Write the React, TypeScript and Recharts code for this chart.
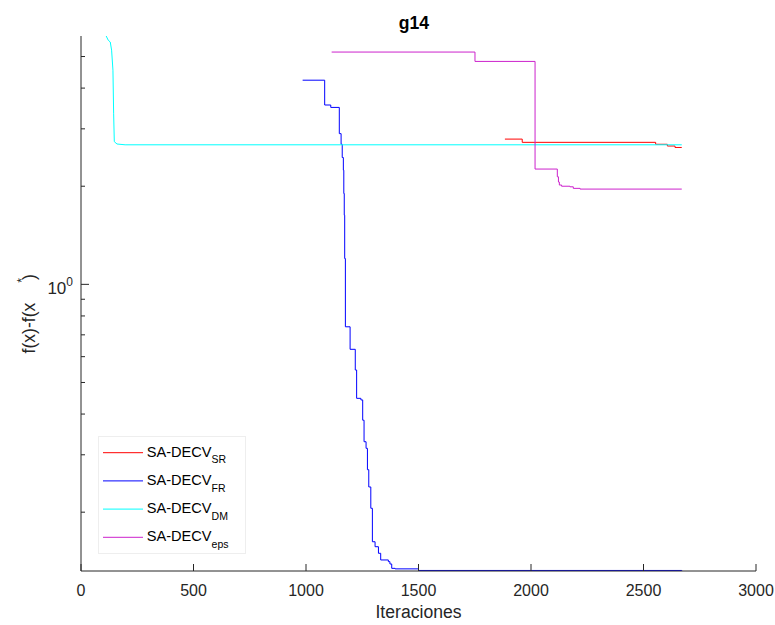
import { LineChart, Line, XAxis, YAxis, Legend } from "recharts";

// Convergence of f(x)-f(x*) for the four SA-DECV variants on g14
const srIter = [1884, 1961, 2554, 2606, 2640, 2670];
const srValue = [2.79, 2.727, 2.69, 2.657, 2.63, 2.63];

const frIter = [
  985, 1083, 1110, 1148, 1156, 1161, 1166, 1168, 1170, 1172, 1175, 1196, 1219,
  1225, 1244, 1252, 1258, 1267, 1273, 1279, 1288, 1295, 1307, 1322, 1332, 1366,
  1373, 1381, 1396, 1500, 2670,
];
const frValue = [
  4.23, 3.55, 3.49, 2.9, 2.69, 2.45, 2.24, 1.9, 1.63, 1.2, 0.741, 0.632, 0.546,
  0.447, 0.442, 0.383, 0.329, 0.314, 0.27, 0.239, 0.2056, 0.1623, 0.1567,
  0.1496, 0.1427, 0.141, 0.1387, 0.1345, 0.134, 0.1325, 0.132,
];

const dmIter = [112, 121, 130, 136, 142, 145, 148, 160, 196, 2670];
const dmValue = [5.78, 5.61, 5.54, 5.23, 4.54, 3.35, 2.74, 2.695, 2.68, 2.68];

const epsIter = [1114, 1751, 2018, 2117, 2122, 2126, 2136, 2173, 2188, 2218, 2670];
const epsValue = [5.16, 4.83, 2.258, 2.138, 2.06, 2.017, 2.0, 1.992, 1.97, 1.96, 1.96];

const xTicks = [0, 500, 1000, 1500, 2000, 2500, 3000];
const yTicks = [0.2, 0.3, 0.4, 0.5, 0.6, 0.7, 0.8, 0.9, 1, 2, 3, 4, 5];
const yDomain = [0.132, 5.78];

const subscripts = ["SR", "FR", "DM", "eps"];
const colors = ["#ff0000", "#0000ff", "#00ffff", "#cc22cc"];

const FONT = '"Liberation Sans", Arial, Helvetica, sans-serif';
const AXIS = "#262626";
const X_MARGIN = 25;
const Y_MARGIN = 8;

const toPoints = (xs: number[], ys: number[]) =>
  xs.map((x, i) => ({ x, y: ys[i] }));

const series = [
  { data: toPoints(srIter, srValue), type: "stepAfter" },
  { data: toPoints(frIter, frValue), type: "stepAfter" },
  { data: toPoints(dmIter, dmValue), type: "linear" },
  { data: toPoints(epsIter, epsValue), type: "stepAfter" },
];

function XTick(props: any) {
  const { x, y, payload } = props;
  const axisY = y - X_MARGIN;
  return (
    <g>
      <line x1={x} x2={x} y1={axisY} y2={axisY - 7} stroke={AXIS} />
      <text x={x} y={y} textAnchor="middle" fontSize={16} fill={AXIS} fontFamily={FONT}>
        {payload.value}
      </text>
    </g>
  );
}

function YTick(props: any) {
  const { x, y, payload } = props;
  const axisX = x + Y_MARGIN;
  const major = payload.value === 1;
  return (
    <g>
      <line x1={axisX} x2={axisX + (major ? 8 : 4)} y1={y} y2={y} stroke={AXIS} />
      {major && (
        <text x={x} y={y + 10} textAnchor="end" fontSize={17} fill={AXIS} fontFamily={FONT}>
          <tspan>10</tspan>
          <tspan dy={-8} fontSize={12}>0</tspan>
        </text>
      )}
    </g>
  );
}

function YLabel(props: any) {
  const { viewBox } = props;
  const cx = viewBox.x + 35;
  const cy = viewBox.y + viewBox.height / 2 + 50;
  return (
    <text
      x={cx}
      y={cy}
      transform={`rotate(-90 ${cx} ${cy})`}
      fontSize={17.6}
      fill={AXIS}
      fontFamily={FONT}
    >
      <tspan>f(x)-f(x</tspan>
      <tspan dx={20} dy={-9} fontSize={12}>*</tspan>
      <tspan dx={-2} dy={9}>)</tspan>
    </text>
  );
}

// legend entries keep the plotting order (SR, FR, DM, eps)
function LegendBox(props: any) {
  const items = [...(props.payload || [])].sort(
    (a: any, b: any) => subscripts.indexOf(a.value) - subscripts.indexOf(b.value)
  );
  return (
    <svg width={148} height={118} style={{ display: "block" }}>
      <rect x={0.5} y={0.5} width={147} height={117} fill="#ffffff" stroke="#eeeeee" />
      {items.map((item: any, i: number) => {
        const cy = 16.7 + i * 28.2;
        return (
          <g key={item.value}>
            <line x1={5} x2={45} y1={cy} y2={cy} stroke={item.color} />
            <text x={48.7} y={cy + 4} fontSize={14.6} fill="#000" fontFamily={FONT}>
              <tspan>SA-DECV</tspan>
              <tspan dy={6.7} fontSize={10.5}>{item.value}</tspan>
            </text>
          </g>
        );
      })}
    </svg>
  );
}

export default function App() {
  return (
    <div style={{ position: "absolute", left: 0, top: 0, background: "#fff" }}>
      <LineChart width={775} height={625} margin={{ top: 36, right: 19, left: 0, bottom: 0 }}>
        <text x={414} y={28.5} textAnchor="middle" fontSize={17.6} fontWeight="bold" fill="#000" fontFamily={FONT}>
          g14
        </text>
        <XAxis
          type="number"
          dataKey="x"
          domain={[0, 3000]}
          ticks={xTicks}
          interval={0}
          allowDataOverflow
          height={54}
          stroke={AXIS}
          tickLine={false}
          tickSize={0}
          tickMargin={X_MARGIN}
          tick={<XTick />}
          label={{
            value: "Iteraciones",
            position: "insideBottom",
            offset: 7,
            fontSize: 17.6,
            fill: AXIS,
            fontFamily: FONT,
          }}
        />
        <YAxis
          type="number"
          scale="log"
          dataKey="y"
          domain={yDomain}
          ticks={yTicks}
          interval={0}
          allowDataOverflow
          width={81}
          stroke={AXIS}
          tickLine={false}
          tickSize={0}
          tickMargin={Y_MARGIN}
          tick={<YTick />}
          label={{ content: <YLabel /> }}
        />
        <Legend
          layout="horizontal"
          align="center"
          verticalAlign="middle"
          content={<LegendBox />}
          wrapperStyle={{ position: "absolute", left: 98, top: 436, width: 148, height: 118 }}
        />
        {series.map((s, i) => (
          <Line
            key={subscripts[i]}
            name={subscripts[i]}
            data={s.data}
            dataKey="y"
            type={s.type as any}
            stroke={colors[i]}
            strokeWidth={1}
            dot={false}
            activeDot={false}
            isAnimationActive={false}
          />
        ))}
      </LineChart>
    </div>
  );
}
